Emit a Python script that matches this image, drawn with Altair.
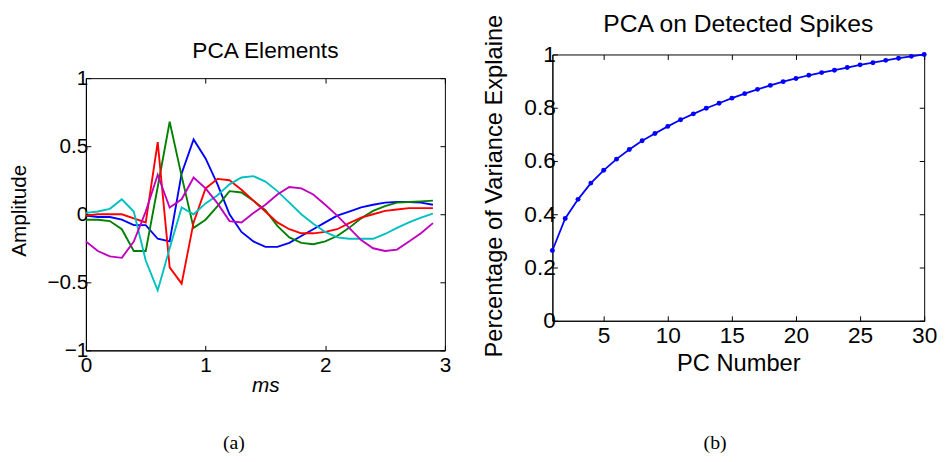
import altair as alt
import pandas as pd

FONT = "Liberation Sans"
SERIF = "Liberation Serif"

# ---------------- data ----------------
t_ms = [0.0, 0.1, 0.2, 0.3, 0.4, 0.5, 0.6, 0.7, 0.8, 0.9,
        1.0, 1.1, 1.2, 1.3, 1.4, 1.5, 1.6, 1.7, 1.8, 1.9,
        2.0, 2.1, 2.2, 2.3, 2.4, 2.5, 2.6, 2.7, 2.8, 2.9]

pc_blue = [-0.01, -0.02, -0.02, -0.04, -0.08, -0.08, -0.18, -0.20, 0.30, 0.55,
           0.41, 0.22, 0.00, -0.13, -0.20, -0.24, -0.24, -0.21, -0.16, -0.11,
           -0.06, -0.01, 0.02, 0.05, 0.07, 0.085, 0.09, 0.09, 0.085, 0.07]
pc_green = [-0.04, -0.04, -0.05, -0.11, -0.27, -0.27, 0.20, 0.68, 0.28, -0.10,
            -0.04, 0.06, 0.17, 0.16, 0.10, 0.03, -0.085, -0.17, -0.21, -0.22,
            -0.20, -0.16, -0.10, -0.03, 0.025, 0.06, 0.085, 0.09, 0.095, 0.10]
pc_red = [-0.01, 0.00, 0.00, 0.00, -0.03, -0.06, 0.53, -0.39, -0.51, -0.06,
          0.19, 0.26, 0.25, 0.18, 0.10, 0.02, -0.06, -0.11, -0.14, -0.14,
          -0.13, -0.11, -0.065, -0.025, 0.00, 0.025, 0.035, 0.045, 0.045, 0.045]
pc_cyan = [0.01, 0.02, 0.04, 0.11, 0.02, -0.34, -0.56, -0.25, 0.05, 0.00,
           0.08, 0.14, 0.22, 0.27, 0.28, 0.24, 0.17, 0.085, 0.00, -0.07,
           -0.13, -0.17, -0.18, -0.18, -0.18, -0.145, -0.10, -0.06, -0.025, 0.005]
pc_magenta = [-0.20, -0.27, -0.31, -0.32, -0.20, 0.02, 0.29, 0.05, 0.11, 0.27,
              0.19, 0.08, -0.05, -0.06, 0.01, 0.07, 0.145, 0.20, 0.19, 0.145,
              0.07, -0.01, -0.10, -0.19, -0.25, -0.27, -0.26, -0.20, -0.14, -0.065]

series_names = ["PC1", "PC2", "PC3", "PC4", "PC5"]
series_colors = ["#0000FF", "#008000", "#FF0000", "#00BFBF", "#BF00BF"]
series_values = [pc_blue, pc_green, pc_red, pc_cyan, pc_magenta]

pc_number = list(range(1, 31))
var_explained = [0.264, 0.384, 0.456, 0.517, 0.565, 0.607, 0.643, 0.676, 0.703, 0.730,
                 0.755, 0.777, 0.798, 0.817, 0.836, 0.853, 0.869, 0.884, 0.898, 0.910,
                 0.922, 0.932, 0.941, 0.951, 0.961, 0.969, 0.978, 0.986, 0.993, 1.000]

left_xticks = [0, 1, 2, 3]
left_yticks = [-1, -0.5, 0, 0.5, 1]
right_xticks = [5, 10, 15, 20, 25, 30]
right_yticks = [0, 0.2, 0.4, 0.6, 0.8, 1.0]

# ---------------- tables ----------------
rows = []
for name, vals in zip(series_names, series_values):
    for t, v in zip(t_ms, vals):
        rows.append({"t": t, "v": v, "pc": name})
df_left = pd.DataFrame(rows)
df_right = pd.DataFrame({"n": pc_number, "p": var_explained})

W1, H1 = 364, 276
W2, H2 = 377, 270
INWARD = {"expr": "-5"}

# ---------------- left panel ----------------
lx = alt.X("t:Q", scale=alt.Scale(domain=[0, 3], nice=False, zero=False),
           axis=alt.Axis(values=left_xticks, format="~g", title="ms", titleFontStyle="italic",
                         labelFontSize=21, titleFontSize=21, tickSize=INWARD, labelPadding=9,
                         labelFlush=False, labelOverlap=False,
                         titleBaseline="alphabetic", titleY=42))
ly = alt.Y("v:Q", scale=alt.Scale(domain=[-1, 1], nice=False),
           axis=alt.Axis(values=left_yticks, format="~g", title="Amplitude",
                         labelFontSize=21, titleFontSize=21, tickSize=INWARD, labelPadding=3,
                         labelFlush=False, labelOverlap=False,
                         titleBaseline="alphabetic", titleX=-61, titleY=134))

lines = alt.Chart(df_left).mark_line(strokeWidth=1.9).encode(
    x=lx, y=ly,
    color=alt.Color("pc:N", scale=alt.Scale(domain=series_names, range=series_colors), legend=None),
)
mirror_left = alt.Chart(df_left).mark_line(opacity=0).encode(
    x=alt.X("t:Q", axis=alt.Axis(orient="top", values=left_xticks, labels=False, title=None,
                                 domain=False, tickSize=INWARD)),
    y=alt.Y("v:Q", axis=alt.Axis(orient="right", values=left_yticks, labels=False, title=None,
                                 domain=False, tickSize=INWARD)),
    detail="pc:N",
)
title_left = alt.Chart(pd.DataFrame({"s": ["PCA Elements"]})).mark_text(
    font=FONT, fontSize=23, baseline="alphabetic", align="center", color="black"
).encode(x=alt.value(W1 / 2), y=alt.value(-20), text="s:N")
cap_left = alt.Chart(pd.DataFrame({"s": ["(a)"]})).mark_text(
    font=SERIF, fontSize=20, baseline="alphabetic", align="center", color="black"
).encode(x=alt.value(150), y=alt.value(376), text="s:N")

left = alt.layer(lines, mirror_left, title_left, cap_left).resolve_axis(
    x="independent", y="independent"
).properties(width=W1, height=H1)

spacer = alt.Chart(pd.DataFrame({"a": [0]})).mark_point(opacity=0).encode(
    x=alt.value(0), y=alt.value(0)
).properties(width=W1, height=24, view=alt.ViewBackground(stroke="transparent"))

left_col = alt.vconcat(spacer, left, spacing=0, bounds="flush")

# ---------------- right panel ----------------
rx = alt.X("n:Q", scale=alt.Scale(domain=[1, 30], nice=False, zero=False),
           axis=alt.Axis(values=right_xticks, format="~g", title="PC Number",
                         labelFontSize=23, titleFontSize=24, tickSize=INWARD, labelPadding=9,
                         labelFlush=False, labelOverlap=False,
                         titleBaseline="alphabetic", titleY=50))
ry = alt.Y("p:Q", scale=alt.Scale(domain=[0, 1], nice=False),
           axis=alt.Axis(values=right_yticks, format="~g", title="Percentage of Variance Explaine",
                         labelFontSize=23, titleFontSize=24, tickSize=INWARD, labelPadding=2,
                         labelFlush=False, labelOverlap=False,
                         titleBaseline="alphabetic", titleX=-52, titleY=133))

curve = alt.Chart(df_right).mark_line(
    color="#0000FF", strokeWidth=1.8,
    point=alt.OverlayMarkDef(color="#0000FF", filled=True, size=25, opacity=1),
).encode(x=rx, y=ry)
mirror_right = alt.Chart(df_right).mark_line(opacity=0).encode(
    x=alt.X("n:Q", axis=alt.Axis(orient="top", values=right_xticks, labels=False, title=None,
                                 domain=False, tickSize=INWARD)),
    y=alt.Y("p:Q", axis=alt.Axis(orient="right", values=right_yticks, labels=False, title=None,
                                 domain=False, tickSize=INWARD)),
)
title_right = alt.Chart(pd.DataFrame({"s": ["PCA on Detected Spikes"]})).mark_text(
    font=FONT, fontSize=25, baseline="alphabetic", align="center", color="black"
).encode(x=alt.value(W2 / 2), y=alt.value(-23), text="s:N")
cap_right = alt.Chart(pd.DataFrame({"s": ["(b)"]})).mark_text(
    font=SERIF, fontSize=20, baseline="alphabetic", align="center", color="black"
).encode(x=alt.value(165), y=alt.value(400), text="s:N")

right = alt.layer(curve, mirror_right, title_right, cap_right).resolve_axis(
    x="independent", y="independent"
).properties(width=W2, height=H2)

chart = alt.hconcat(left_col, right, spacing=30).properties(
    padding={"left": 0, "top": 0, "right": 0, "bottom": 0}
).configure_view(
    stroke="black", strokeWidth=1
).configure_axis(
    labelFont=FONT, titleFont=FONT, labelColor="black", titleColor="black",
    titleFontWeight="normal", domainColor="black", tickColor="black",
    grid=False, domainWidth=1, tickWidth=1
)

chart.save("out.html", embed_options={"renderer": "svg", "actions": False})
